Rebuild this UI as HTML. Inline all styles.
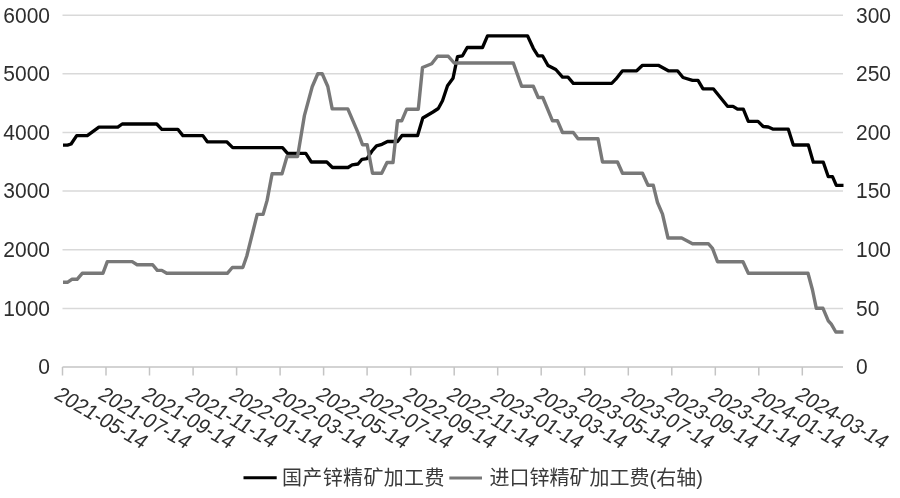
<!DOCTYPE html>
<html><head><meta charset="utf-8"><title>chart</title>
<style>
html,body{margin:0;padding:0;background:#fff;}
body{width:900px;height:498px;overflow:hidden;}
svg{display:block;}
text{font-family:"Liberation Sans","Noto Sans CJK SC",sans-serif;fill:#2e2e2e;}
.ax{font-size:21px;}
.dt{font-size:20.0px;}
.lg{font-size:20px;fill:#3a3a3a;}
</style></head><body>
<svg width="900" height="498" viewBox="0 0 900 498">
<rect width="900" height="498" fill="#ffffff"/>
<g stroke="#d9d9d9" stroke-width="1.5" fill="none">
<line x1="62.5" y1="15.2" x2="843" y2="15.2"/>
<line x1="62.5" y1="73.8" x2="843" y2="73.8"/>
<line x1="62.5" y1="132.5" x2="843" y2="132.5"/>
<line x1="62.5" y1="191.1" x2="843" y2="191.1"/>
<line x1="62.5" y1="249.7" x2="843" y2="249.7"/>
<line x1="62.5" y1="308.4" x2="843" y2="308.4"/>
</g>
<g stroke="#c4c4c4" stroke-width="1.5" fill="none">
<line x1="62.5" y1="367.0" x2="843" y2="367.0"/>
<line x1="62.5" y1="367.0" x2="62.5" y2="375.5"/>
<line x1="106.0" y1="367.0" x2="106.0" y2="375.5"/>
<line x1="149.5" y1="367.0" x2="149.5" y2="375.5"/>
<line x1="193.1" y1="367.0" x2="193.1" y2="375.5"/>
<line x1="236.6" y1="367.0" x2="236.6" y2="375.5"/>
<line x1="280.1" y1="367.0" x2="280.1" y2="375.5"/>
<line x1="323.6" y1="367.0" x2="323.6" y2="375.5"/>
<line x1="367.1" y1="367.0" x2="367.1" y2="375.5"/>
<line x1="410.7" y1="367.0" x2="410.7" y2="375.5"/>
<line x1="454.2" y1="367.0" x2="454.2" y2="375.5"/>
<line x1="497.7" y1="367.0" x2="497.7" y2="375.5"/>
<line x1="541.2" y1="367.0" x2="541.2" y2="375.5"/>
<line x1="584.7" y1="367.0" x2="584.7" y2="375.5"/>
<line x1="628.3" y1="367.0" x2="628.3" y2="375.5"/>
<line x1="671.8" y1="367.0" x2="671.8" y2="375.5"/>
<line x1="715.3" y1="367.0" x2="715.3" y2="375.5"/>
<line x1="758.8" y1="367.0" x2="758.8" y2="375.5"/>
<line x1="802.3" y1="367.0" x2="802.3" y2="375.5"/>
</g>
<polyline points="63,145.1 67.5,145.1 71.1,144 76.7,135.6 87.3,135.6 98.9,127.1 117.8,127.1 122.2,124 156.7,124 161.8,129.3 177.8,129.3 182.9,135.6 202.9,135.6 207.3,141.8 226.7,141.8 232.7,147.6 282.5,147.6 287.5,153.3 305.8,153.3 311.3,162 326.8,162 332.4,167.5 348,167.5 352.2,164.8 358,164 362,159.3 367,158.6 372,151 376.5,145.8 382,144.3 387.5,141.5 397.5,141.5 402,135.5 417.6,135.5 422.8,118 433,112 438.3,108.5 442.5,100.8 447.5,85.8 453,78.3 457.5,56.7 462.5,55.8 467.2,47.5 482.5,47.5 487.5,35.8 527.5,35.8 533.3,48.3 538,55.8 542.5,55.8 548,65.5 555.8,69.5 562.5,77.2 568,77.2 573.3,83.3 611.7,83.3 615.8,79.2 622.5,70.8 636.7,70.8 642.5,65.3 658.3,65.3 668.3,70.8 677.5,70.8 683,77.5 692.5,80.3 698,80.3 703,88.8 713.3,88.8 727.5,106.3 733,106.3 737.5,109.2 743.3,109.2 748.3,121.3 758,121.3 763.2,126.5 768.3,127 773.3,129.2 788.3,129.2 793.3,145 808.3,145 813.3,162.2 823.3,162.2 828.3,176.7 832.5,176.7 836.3,185.3 843.5,185.3" fill="none" stroke="#000000" stroke-width="3.3" stroke-linejoin="round" stroke-linecap="butt"/>
<polyline points="63,282.2 67.8,282.2 71.8,279.3 77.1,279.3 82.2,273.3 102.9,273.3 107.3,261.6 132.2,261.6 137.1,264.7 152.7,264.7 157.3,270.4 161.8,270.4 166.7,273.3 227.3,273.3 232.3,267.5 242.8,267.5 246.8,256 257.2,214.4 263.1,214.4 267.1,200.4 272.1,173.7 282,173.7 287,156.5 297.6,156.5 304.4,115.6 312.2,86.7 317.8,73.8 322.2,73.8 327.8,86.5 332.2,108.9 347.8,108.9 358.3,133.3 362.5,144.7 367.2,144.7 372.5,173.3 381.7,173.3 387,162.5 393,162.5 397.5,120.8 401.7,120.8 406.7,109.2 418.3,109.2 422.5,67.5 431.7,63.7 437.5,56.3 448.3,56.3 454.2,63 513.3,63 521.7,86.3 533.3,86.3 538.2,97.5 542.8,97.5 552.5,120.8 557.5,120.8 562.5,132.5 573.3,132.5 578,138.7 598,138.7 602.5,162 617.5,162 622.5,173.3 642.5,173.3 648,185.3 653.3,185.3 657.5,202.5 662.5,214.2 668,238 681.7,238 692.5,243.7 708.3,243.7 712.5,248.3 717.5,261.7 743,261.7 748.3,273.3 808,273.3 812.5,290 816.3,308.3 823,308.3 828.3,320.8 831.3,324.2 835.8,332 843.5,332" fill="none" stroke="#787878" stroke-width="3.4" stroke-linejoin="round" stroke-linecap="butt"/>
<g class="ax" text-anchor="end">
<text transform="translate(50 22.5) scale(1 1.07)">6000</text>
<text transform="translate(50 81.1) scale(1 1.07)">5000</text>
<text transform="translate(50 139.8) scale(1 1.07)">4000</text>
<text transform="translate(50 198.4) scale(1 1.07)">3000</text>
<text transform="translate(50 257.0) scale(1 1.07)">2000</text>
<text transform="translate(50 315.7) scale(1 1.07)">1000</text>
<text transform="translate(50 374.3) scale(1 1.07)">0</text>
</g>
<g class="ax" text-anchor="start">
<text transform="translate(856 22.5) scale(1 1.07)">300</text>
<text transform="translate(856 81.1) scale(1 1.07)">250</text>
<text transform="translate(856 139.8) scale(1 1.07)">200</text>
<text transform="translate(856 198.4) scale(1 1.07)">150</text>
<text transform="translate(856 257.0) scale(1 1.07)">100</text>
<text transform="translate(856 315.7) scale(1 1.07)">50</text>
<text transform="translate(856 374.3) scale(1 1.07)">0</text>
</g>
<g class="dt">
<text transform="translate(53.1 397.8) rotate(30.3) skewX(-8) scale(1 1.06)">2021-05-14</text>
<text transform="translate(96.7 397.8) rotate(30.3) skewX(-8) scale(1 1.06)">2021-07-14</text>
<text transform="translate(140.2 397.8) rotate(30.3) skewX(-8) scale(1 1.06)">2021-09-14</text>
<text transform="translate(183.8 397.8) rotate(30.3) skewX(-8) scale(1 1.06)">2021-11-14</text>
<text transform="translate(227.4 397.8) rotate(30.3) skewX(-8) scale(1 1.06)">2022-01-14</text>
<text transform="translate(270.9 397.8) rotate(30.3) skewX(-8) scale(1 1.06)">2022-03-14</text>
<text transform="translate(314.5 397.8) rotate(30.3) skewX(-8) scale(1 1.06)">2022-05-14</text>
<text transform="translate(358.1 397.8) rotate(30.3) skewX(-8) scale(1 1.06)">2022-07-14</text>
<text transform="translate(401.6 397.8) rotate(30.3) skewX(-8) scale(1 1.06)">2022-09-14</text>
<text transform="translate(445.2 397.8) rotate(30.3) skewX(-8) scale(1 1.06)">2022-11-14</text>
<text transform="translate(488.8 397.8) rotate(30.3) skewX(-8) scale(1 1.06)">2023-01-14</text>
<text transform="translate(532.3 397.8) rotate(30.3) skewX(-8) scale(1 1.06)">2023-03-14</text>
<text transform="translate(575.9 397.8) rotate(30.3) skewX(-8) scale(1 1.06)">2023-05-14</text>
<text transform="translate(619.4 397.8) rotate(30.3) skewX(-8) scale(1 1.06)">2023-07-14</text>
<text transform="translate(663.0 397.8) rotate(30.3) skewX(-8) scale(1 1.06)">2023-09-14</text>
<text transform="translate(706.6 397.8) rotate(30.3) skewX(-8) scale(1 1.06)">2023-11-14</text>
<text transform="translate(750.1 397.8) rotate(30.3) skewX(-8) scale(1 1.06)">2024-01-14</text>
<text transform="translate(793.7 397.8) rotate(30.3) skewX(-8) scale(1 1.06)">2024-03-14</text>
</g>
<line x1="243.5" y1="477.7" x2="276.7" y2="477.7" stroke="#000" stroke-width="3"/>
<text class="lg" x="282" y="484.5" letter-spacing="0.35">国产锌精矿加工费</text>
<line x1="449.3" y1="478" x2="482" y2="478" stroke="#787878" stroke-width="3"/>
<text class="lg" x="489.5" y="484.5">进口锌精矿加工费(右轴)</text>
</svg>
</body></html>
